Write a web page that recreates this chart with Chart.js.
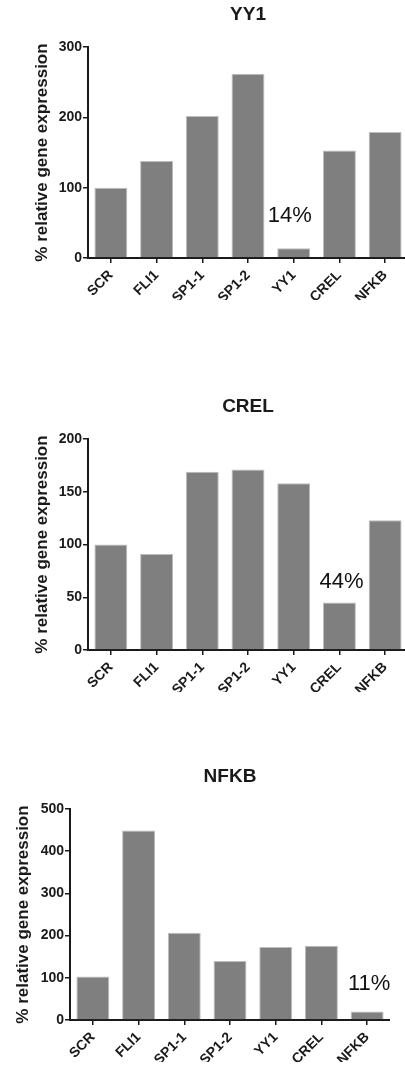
<!DOCTYPE html>
<html>
<head>
<meta charset="utf-8">
<script src="https://cdn.jsdelivr.net/npm/chart.js@4/dist/chart.umd.min.js"></script>
<style>
  html, body { margin: 0; padding: 0; background: #fff; overflow: hidden; }
  .box { position: absolute; left: 0; }
</style>
</head>
<body>
<div class="box" style="top:0px"><canvas id="yy1Chart" width="408" height="300"></canvas></div>
<div class="box" style="top:392px"><canvas id="crelChart" width="408" height="300"></canvas></div>
<div class="box" style="top:762px"><canvas id="nfkbChart" width="390" height="300"></canvas></div>
<script>
const categories = ['SCR', 'FLI1', 'SP1-1', 'SP1-2', 'YY1', 'CREL', 'NFKB'];
const yy1Values = [100, 138, 202, 262, 14, 153, 179];
const crelValues = [100, 91, 169, 171, 158, 45, 123];
const nfkbValues = [103, 449, 207, 140, 173, 176, 20];
const chartTitles = ['YY1', 'CREL', 'NFKB'];
const yMaxima = [300, 200, 500];
const yStepSizes = [100, 50, 100];
const knockdownLabels = ['14%', '44%', '11%'];
const knockdownIndex = [4, 5, 6];

const FONT = "'Liberation Sans', Arial, sans-serif";
const INK = '#1a1a1a';

// writes the knockdown percentage above the silenced bar
const knockdownPlugin = {
    id: 'knockdown',
    afterDatasetsDraw(chart, args, opts) {
        const bar = chart.getDatasetMeta(0).data[opts.index];
        if (!bar) return;
        const c = chart.ctx;
        c.save();
        c.font = '22px ' + FONT;
        c.fillStyle = '#111';
        c.textAlign = 'center';
        c.textBaseline = 'alphabetic';
        c.fillText(opts.text, bar.x + opts.dx, bar.y - opts.lift);
        c.restore();
    }
};

function makeChart(id, n, values, yWidth, titlePad, lift, dx) {
    return new Chart(document.getElementById(id), {
        type: 'bar',
        data: {
            labels: categories,
            datasets: [{
                data: values,
                backgroundColor: '#7f7f7f',
                borderColor: '#bdbdbd',
                borderWidth: 1,
                barPercentage: 0.72,
                categoryPercentage: 1
            }]
        },
        plugins: [knockdownPlugin],
        options: {
            responsive: false,
            animation: false,
            events: [],
            layout: { padding: 0 },
            scales: {
                y: {
                    min: 0,
                    max: yMaxima[n],
                    afterFit(scale) { scale.width = yWidth; },
                    ticks: {
                        stepSize: yStepSizes[n],
                        padding: 1,
                        color: INK,
                        font: { family: FONT, size: 14, weight: 'bold' }
                    },
                    grid: { display: true, drawOnChartArea: false, tickLength: 5, color: INK, lineWidth: 1.5 },
                    border: { display: true, color: INK, width: 2 },
                    title: {
                        display: true,
                        text: '% relative gene expression',
                        color: INK,
                        padding: { top: titlePad, bottom: 0 },
                        font: { family: FONT, size: 17, weight: 'bold' }
                    }
                },
                x: {
                    afterFit(scale) { scale.height = 42; },
                    ticks: {
                        minRotation: 45,
                        maxRotation: 45,
                        padding: 4,
                        color: INK,
                        font: { family: FONT, size: 14, weight: 'bold' }
                    },
                    grid: { display: true, offset: false, drawOnChartArea: false, tickLength: 5, color: INK, lineWidth: 1.5 },
                    border: { display: true, color: INK, width: 2 }
                }
            },
            plugins: {
                legend: { display: false },
                tooltip: { enabled: false },
                title: {
                    display: true,
                    text: chartTitles[n],
                    fullSize: false,
                    color: INK,
                    padding: { top: 3.6, bottom: 20.6 },
                    font: { family: FONT, size: 19, weight: 'bold' }
                },
                knockdown: { text: knockdownLabels[n], index: knockdownIndex[n], lift: lift, dx: dx }
            }
        }
    });
}

makeChart('yy1Chart', 0, yy1Values, 88, 32, 26, -4);
makeChart('crelChart', 1, crelValues, 88, 32, 15, 2);
makeChart('nfkbChart', 2, nfkbValues, 70, 13, 22, 2);
</script>
</body>
</html>
